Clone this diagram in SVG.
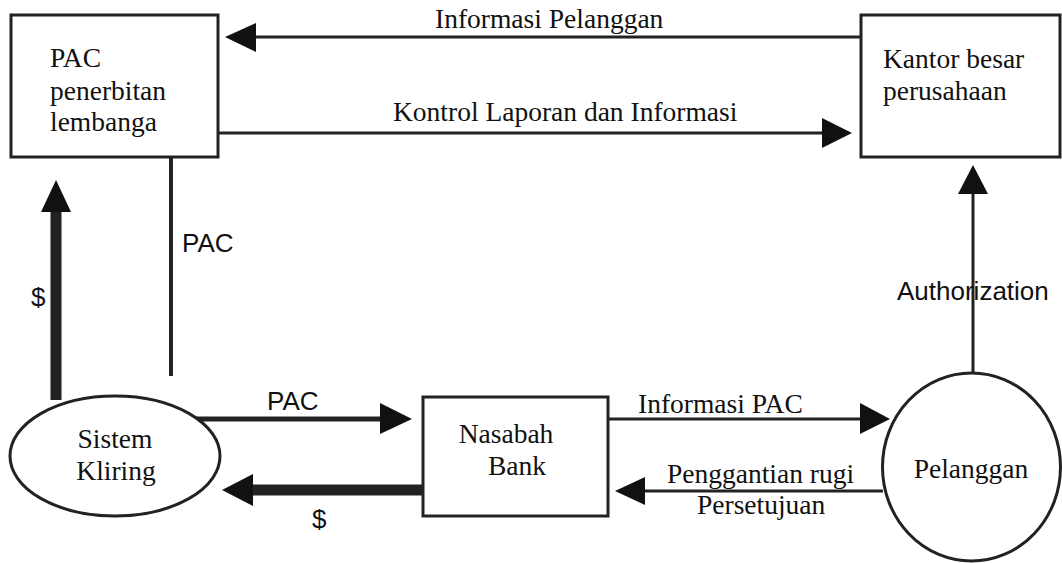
<svg xmlns="http://www.w3.org/2000/svg" width="1062" height="563" viewBox="0 0 1062 563">
<style>
.box{fill:#fff;stroke:#222;stroke-width:3}
.serif{font-family:"Liberation Serif","Times New Roman",serif;font-size:27.5px;fill:#111}
.sans{font-family:"Liberation Sans",Arial,sans-serif;font-size:26px;fill:#111}
.ln{stroke:#222;fill:none}
.head{fill:#111}
</style>
<rect width="1062" height="563" fill="#fff"/>
<g id="connectors">
  <!-- Informasi Pelanggan -->
  <line class="ln" x1="861" y1="37" x2="250" y2="37" stroke-width="3"/>
  <polygon class="head" points="225,37 256,23 256,52"/>
  <!-- Kontrol Laporan -->
  <line class="ln" x1="218" y1="133" x2="826" y2="133" stroke-width="3"/>
  <polygon class="head" points="852,133 822,118 822,148"/>
  <!-- PAC vertical -->
  <line class="ln" x1="171" y1="157" x2="171" y2="376" stroke-width="4"/>
  <!-- $ up thick -->
  <line class="ln" x1="56" y1="400" x2="56" y2="205" stroke-width="11"/>
  <polygon class="head" points="56,180 41,212 71,212"/>
  <!-- PAC to Nasabah -->
  <line class="ln" x1="193" y1="419" x2="385" y2="419" stroke-width="5"/>
  <polygon class="head" points="412,419 380,403 380,434"/>
  <!-- $ back thick -->
  <line class="ln" x1="425" y1="490" x2="245" y2="490" stroke-width="11"/>
  <polygon class="head" points="222,490 253,474 253,506"/>
  <!-- Informasi PAC -->
  <line class="ln" x1="608" y1="419" x2="864" y2="419" stroke-width="3"/>
  <polygon class="head" points="890,419 860,403 860,434"/>
  <!-- Penggantian rugi -->
  <line class="ln" x1="883" y1="491" x2="640" y2="491" stroke-width="3"/>
  <polygon class="head" points="615,491 645,477 645,505"/>
  <!-- Authorization -->
  <line class="ln" x1="973" y1="372" x2="973" y2="188" stroke-width="3"/>
  <polygon class="head" points="973,165 958,194 988,194"/>
  <text class="serif" x="435" y="28">Informasi Pelanggan</text>
  <text class="serif" x="393" y="121">Kontrol Laporan dan Informasi</text>
  <text class="sans" x="182" y="252">PAC</text>
  <text class="sans" x="31" y="306">$</text>
  <text class="sans" x="267" y="410">PAC</text>
  <text class="sans" x="312" y="528">$</text>
  <text class="serif" x="638" y="413">Informasi PAC</text>
  <text class="serif" x="667" y="483">Penggantian rugi</text>
  <text class="serif" x="697" y="514">Persetujuan</text>
  <text class="sans" x="897" y="300">Authorization</text>
</g>
<g id="node-pac">
  <rect class="box" x="11" y="15" width="207" height="142"/>
  <text class="serif" x="50" y="67">PAC</text>
  <text class="serif" x="50" y="100">penerbitan</text>
  <text class="serif" x="50" y="131">lembanga</text>
</g>
<g id="node-kantor">
  <rect class="box" x="861" y="15" width="199" height="142"/>
  <text class="serif" x="883" y="68">Kantor besar</text>
  <text class="serif" x="883" y="100">perusahaan</text>
</g>
<g id="node-kliring">
  <ellipse class="box" cx="115" cy="456" rx="105" ry="60"/>
  <text class="serif" x="115" y="448" text-anchor="middle">Sistem</text>
  <text class="serif" x="116" y="480" text-anchor="middle">Kliring</text>
</g>
<g id="node-nasabah">
  <rect class="box" x="423" y="397" width="185" height="119"/>
  <text class="serif" x="506" y="443" text-anchor="middle">Nasabah</text>
  <text class="serif" x="517" y="475" text-anchor="middle">Bank</text>
</g>
<g id="node-pelanggan">
  <ellipse class="box" cx="971.5" cy="467" rx="89" ry="94"/>
  <text class="serif" x="971" y="478" text-anchor="middle">Pelanggan</text>
</g>
</svg>
